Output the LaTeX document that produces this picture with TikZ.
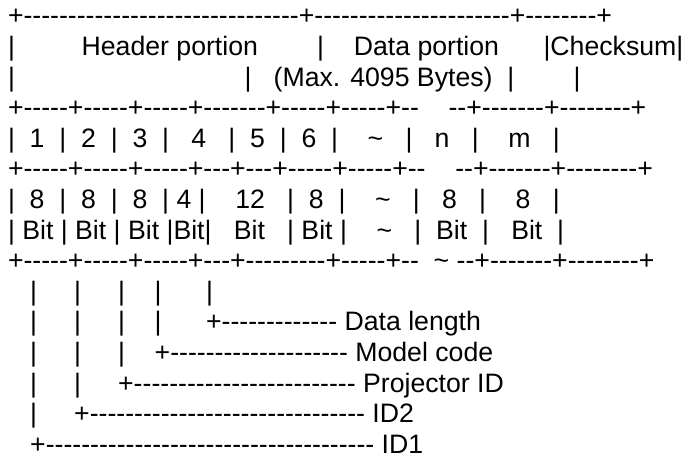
\documentclass[tikz,border=0pt]{standalone}
\usepackage{fontspec}
\newfontfamily\asc{Liberation Sans}
% n hyphens in a row, kept apart so no ligature can form
\ExplSyntaxOn
\NewDocumentCommand\dsh{m}{\prg_replicate:nn{#1}{-\kern0pt}}
\ExplSyntaxOff
% n word spaces of the current font
\newcommand\sps[1]{\hskip#1\fontdimen2\font\relax}
\newcommand\tld{\textasciitilde}
\begin{document}
\begin{tikzpicture}[x=0.75pt,y=-0.75pt,
  row/.style={anchor=base west,inner sep=0pt,outer sep=0pt,
    font=\asc\fontsize{20pt}{24pt}\selectfont}]
\useasboundingbox[fill=white] (0,0) rectangle (683,456);
% frame layout
\node[row] (ln1)  at (8,25.0)  {+\dsh{31}+\dsh{22}+\dsh{8}+};
\node[row] (ln2)  at (8,55.6)  {|\sps{9}Header portion\sps{8}|\sps{4}Data portion\sps{6}|Checksum|};
\node[row] (ln3)  at (8,86.2)  {|\sps{31}|\sps{3}(Max. 4095 Bytes)\sps{2}|\sps{8}|};
\node[row] (ln4)  at (8,116.8) {+\dsh{5}+\dsh{5}+\dsh{5}+\dsh{7}+\dsh{5}+\dsh{5}+\dsh{2}\sps{4}\dsh{2}+\dsh{7}+\dsh{8}+};
\node[row] (ln5)  at (8,147.4) {|\sps{2}1\sps{2}|\sps{2}2\sps{2}|\sps{2}3\sps{2}|\sps{3}4\sps{3}|\sps{2}5\sps{2}|\sps{2}6\sps{2}|\sps{4}\tld\sps{3}|\sps{3}n\sps{3}|\sps{4}m\sps{3}|};
\node[row] (ln6)  at (8,178.0) {+\dsh{5}+\dsh{5}+\dsh{5}+\dsh{3}+\dsh{3}+\dsh{5}+\dsh{5}+\dsh{2}\sps{4}\dsh{2}+\dsh{7}+\dsh{8}+};
\node[row] (ln7)  at (8,208.6) {|\sps{2}8\sps{2}|\sps{2}8\sps{2}|\sps{2}8\sps{2}|\sps{1}4\sps{1}|\sps{4}12\sps{3}|\sps{2}8\sps{2}|\sps{4}\tld\sps{3}|\sps{3}8\sps{3}|\sps{4}8\sps{3}|};
\node[row] (ln8)  at (8,239.2) {|\sps{1}Bit\sps{1}|\sps{1}Bit\sps{1}|\sps{1}Bit\sps{1}|Bit|\sps{3}Bit\sps{3}|\sps{1}Bit\sps{1}|\sps{4}\tld\sps{3}|\sps{2}Bit\sps{2}|\sps{3}Bit\sps{2}|};
\node[row] (ln9)  at (8,269.8) {+\dsh{5}+\dsh{5}+\dsh{5}+\dsh{3}+\dsh{9}+\dsh{5}+\dsh{2}\sps{2}\tld\sps{1}\dsh{2}+\dsh{7}+\dsh{8}+};
% field legend
\node[row] (ln10) at (8,300.4) {\sps{3}|\sps{5}|\sps{5}|\sps{4}|\sps{6}|};
\node[row] (ln11) at (8,331.0) {\sps{3}|\sps{5}|\sps{5}|\sps{4}|\sps{6}+\dsh{13}\sps{1}Data length};
\node[row] (ln12) at (8,361.6) {\sps{3}|\sps{5}|\sps{5}|\sps{4}+\dsh{20}\sps{1}Model code};
\node[row] (ln13) at (8,392.2) {\sps{3}|\sps{5}|\sps{5}+\dsh{25}\sps{1}Projector ID};
\node[row] (ln14) at (8,422.8) {\sps{3}|\sps{5}+\dsh{31}\sps{1}ID2};
\node[row] (ln15) at (8,453.4) {\sps{3}+\dsh{37}\sps{1}ID1};
\end{tikzpicture}
\end{document}
